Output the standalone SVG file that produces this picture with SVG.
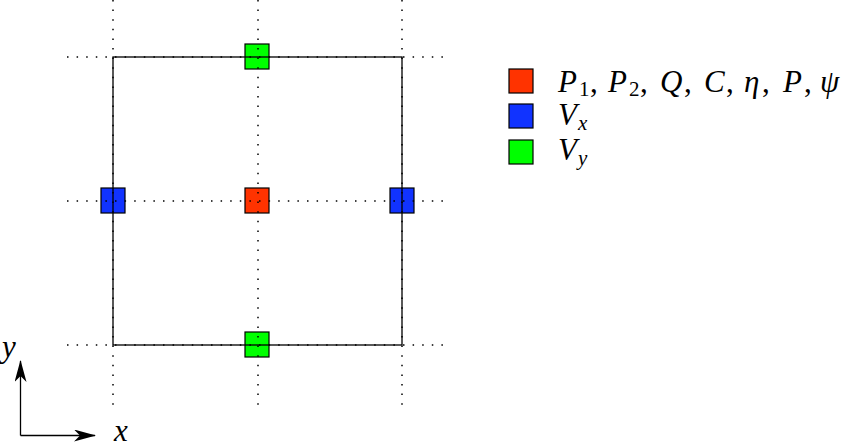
<svg xmlns="http://www.w3.org/2000/svg" width="846" height="448" viewBox="0 0 846 448">
<style>
.dot{stroke:#000;stroke-width:1.5;stroke-dasharray:1.5 8.1;fill:none}
.frame{stroke:#000;stroke-width:1.3;fill:none}
.cell{stroke:#000;stroke-width:1.2}
.p{fill:#ff3300}.vx{fill:#1133ff}.vy{fill:#00ff00}
.t{font-family:"Liberation Serif","DejaVu Serif",serif;font-style:italic;font-size:31px;fill:#000}
.s{font-style:normal;font-size:21px}
.si{font-style:italic;font-size:21px}
.n{font-style:normal}
.ax{stroke:#000;stroke-width:1.3;fill:none}
</style>
<defs>
<marker id="ah" viewBox="0 0 22 12" refX="21" refY="6" markerWidth="22" markerHeight="12" markerUnits="userSpaceOnUse" orient="auto">
<path d="M0,0 L22,6 L0,12 L6,6 Z" fill="#000"/>
</marker>
</defs>
<g id="cells">
<g id="vy-top"><rect class="cell vy" x="245" y="44" width="24" height="25"/></g>
<g id="vy-bottom"><rect class="cell vy" x="245" y="332" width="24" height="25"/></g>
<g id="vx-left"><rect class="cell vx" x="101" y="188" width="24" height="25"/></g>
<g id="vx-right"><rect class="cell vx" x="390" y="188" width="24" height="25"/></g>
<g id="p-center"><rect class="cell p" x="245" y="188" width="24" height="25"/></g>
</g>
<g id="connectors">
<rect class="frame" x="113" y="57" width="289" height="288"/>
<path class="dot" d="M67,57H446M67,201H446M67,345H446M113,0V408M258,0V408M402,0V408"/>
<path class="ax" d="M20.5,435.5V361" marker-end="url(#ah)"/>
<path class="ax" d="M20.5,435.5H95" marker-end="url(#ah)"/>
</g>
<g id="axis-labels">
<text class="t" x="2" y="357">y</text>
<text class="t" x="114" y="441">x</text>
</g>
<g id="legend">
<rect class="cell p" x="509" y="69" width="24" height="24"/>
<rect class="cell vx" x="509" y="104" width="24" height="24"/>
<rect class="cell vy" x="509" y="140" width="24" height="24"/>
<text class="t" y="92"><tspan x="558">P</tspan><tspan class="s" x="579" y="96">1</tspan><tspan class="n" x="590" y="92">,</tspan><tspan x="608">P</tspan><tspan class="s" x="629" y="96">2</tspan><tspan class="n" x="640" y="92">,</tspan><tspan x="660">Q</tspan><tspan class="n" x="684">,</tspan><tspan x="704">C</tspan><tspan class="n" x="726">,</tspan><tspan x="744">η</tspan><tspan class="n" x="762">,</tspan><tspan x="783">P</tspan><tspan class="n" x="804">,</tspan><tspan x="820">ψ</tspan></text>
<text class="t" y="125"><tspan x="558">V</tspan><tspan class="si" x="578" y="130">x</tspan></text>
<text class="t" y="160"><tspan x="558">V</tspan><tspan class="si" x="578" y="165">y</tspan></text>
</g>
</svg>
